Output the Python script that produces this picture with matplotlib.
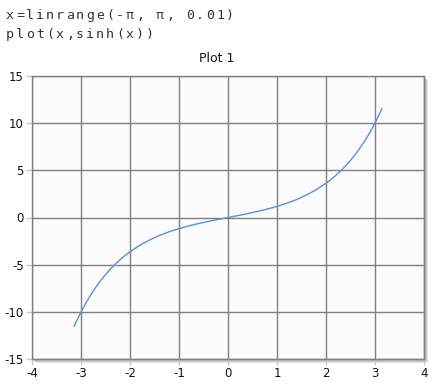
import matplotlib
matplotlib.use("Agg")
import matplotlib.pyplot as plt
import matplotlib.patches as mpatches

plt.rcParams["axes.unicode_minus"] = False

# values
x_vals = [-3.14, -3.1, -3.0, -2.9, -2.8, -2.7, -2.6, -2.5, -2.4, -2.3, -2.2, -2.1,
          -2.0, -1.8, -1.6, -1.4, -1.2, -1.0, -0.8, -0.6, -0.4, -0.2, 0.0,
          0.2, 0.4, 0.6, 0.8, 1.0, 1.2, 1.4, 1.6, 1.8, 2.0, 2.1, 2.2, 2.3, 2.4,
          2.5, 2.6, 2.7, 2.8, 2.9, 3.0, 3.1, 3.14]
y_vals = [-11.53, -11.08, -10.02, -9.06, -8.19, -7.41, -6.69, -6.05, -5.47, -4.94,
          -4.46, -4.02, -3.63, -2.94, -2.38, -1.90, -1.51, -1.18, -0.89, -0.64,
          -0.41, -0.20, 0.0, 0.20, 0.41, 0.64, 0.89, 1.18, 1.51, 1.90, 2.38, 2.94,
          3.63, 4.02, 4.46, 4.94, 5.47, 6.05, 6.69, 7.41, 8.19, 9.06, 10.02, 11.08, 11.53]
x_ticks = [-4, -3, -2, -1, 0, 1, 2, 3, 4]
y_ticks = [-15, -10, -5, 0, 5, 10, 15]
code_lines = ["x=linrange(-\u03c0, \u03c0, 0.01)", "plot(x,sinh(x))"]

W, H = 445, 389
fig = plt.figure(figsize=(W / 100, H / 100), dpi=100)
fig.patch.set_facecolor("white")

l, r, t, b = 32, 424, 76, 359
ax = fig.add_axes([l / W, 1 - b / H, (r - l) / W, (b - t) / H])

# soft drop shadow behind the plot area
for off, col in [(4, "#e4e4e4"), (3, "#cccccc"), (2, "#b8b8b8")]:
    sh = mpatches.Rectangle(((l + off) / W, 1 - (b + off) / H), (r - l) / W, (b - t) / H,
                            transform=fig.transFigure, facecolor=col,
                            edgecolor="none", zorder=-1)
    fig.patches.append(sh)

ax.set_facecolor("#fbfbfb")
ax.plot(x_vals, y_vals, color="#5b8fdc", linewidth=1.0)

ax.set_xlim(-4, 4)
ax.set_ylim(-15, 15)
ax.set_xticks(x_ticks)
ax.set_yticks(y_ticks)
ax.grid(True, color="#808080", linewidth=1.0)
ax.set_axisbelow(True)
for s in ax.spines.values():
    s.set_color("#808080")
    s.set_linewidth(1.0)
ax.tick_params(axis="both", colors="#c8c8c8", length=4, width=1,
               labelcolor="#111122", labelsize=8.5, pad=2)

ax.set_title("Plot 1", fontsize=9, pad=10, color="#111111", x=0.47)

# fixed-pitch code lines, 10 px per character
for row, (line, base) in enumerate(zip(code_lines, [19, 38])):
    for i, ch in enumerate(line):
        fig.text((10 + 10 * i) / W, 1 - base / H, ch, family="DejaVu Sans Mono",
                 fontsize=9.5, ha="center", va="baseline", color="#333333")

fig.savefig("out.png", dpi=100)
